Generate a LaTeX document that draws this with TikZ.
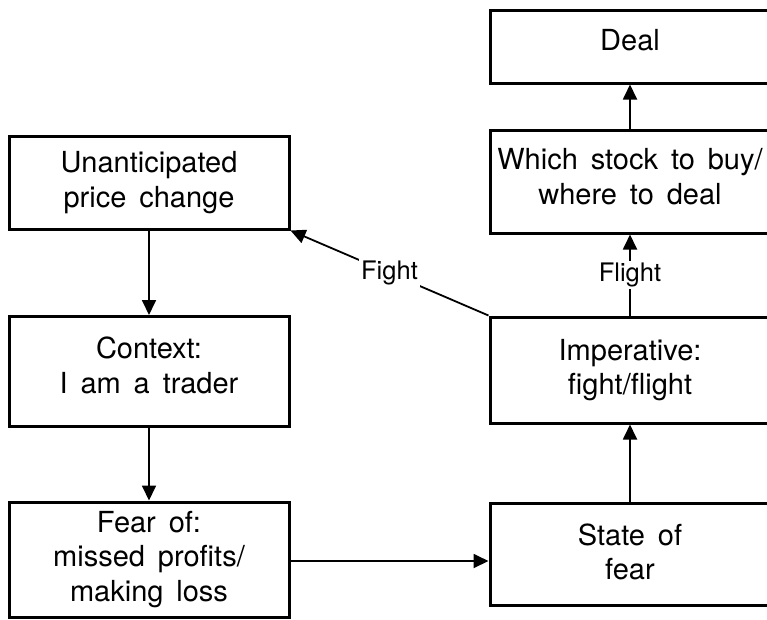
\documentclass[tikz,border=0pt]{standalone}
\usepackage{fontspec}
\setmainfont{TeX Gyre Heros}[WordSpace=1.6]
\usetikzlibrary{arrows.meta}
\begin{document}
\begin{tikzpicture}[x=1pt,y=-1pt,
  box/.style={draw, line width=3pt, inner sep=0pt, outer sep=1.5pt, align=center,
    font=\fontsize{29}{34.5}\selectfont, minimum width=280pt},
  tdd/.style={text depth=#1},
  conn/.style={line width=1.8pt, -{Triangle[length=15pt,width=14pt]}},
  lbl/.style={fill=white, font=\fontsize{25.5}{29}\selectfont, inner sep=2pt}]
\useasboundingbox (0,0) rectangle (767,619);
\clip (0,0) rectangle (767,619);
\node[box, minimum height=93pt] (u) at (149,182.5) {Unanticipated\\price change};
\node[box, minimum height=110pt, tdd=13pt] (c) at (149,371.5) {Context:\\I am a trader};
\node[box, minimum height=115pt] (f) at (149,559.5) {Fear of:\\missed profits/\\making loss};
\node[box, minimum height=102pt, tdd=5pt] (s) at (630,554) {State of\\fear};
\node[box, minimum height=106pt] (i) at (630,370) {Imperative:\\fight/flight};
\node[box, minimum height=103pt, tdd=10pt] (w) at (630,181.5) {Which stock to buy/\\where to deal};
\node[box, minimum height=73pt, tdd=14pt] (d) at (630,46.5) {Deal};
\draw[conn] (u) -- (c);
\draw[conn] (c) -- (f);
\draw[conn] ([yshift=-1.5pt]f.east) -- ([yshift=-1.5pt]f.east -| s.west);
\draw[conn] (s) -- (i);
\draw[conn] (i) -- node[lbl] {Flight} (w);
\draw[conn] (w) -- (d);
\draw[conn] (i.north west) -- node[lbl] {Fight} (u.south east);
\end{tikzpicture}
\end{document}
